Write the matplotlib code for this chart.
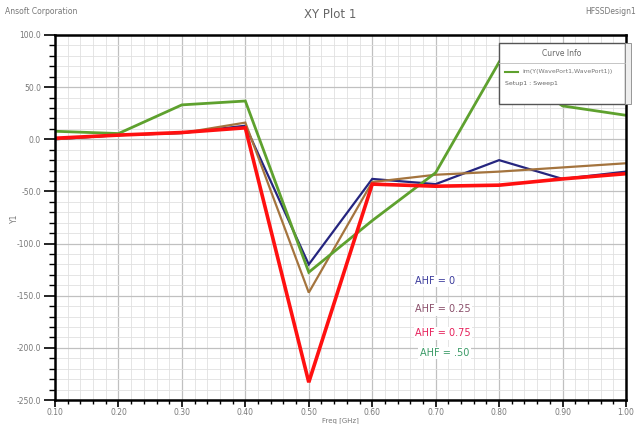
import numpy as np
import matplotlib.pyplot as plt
from matplotlib.ticker import MultipleLocator, FormatStrFormatter
from matplotlib.patches import Rectangle

# Dane
freq = [0.10, 0.20, 0.30, 0.40, 0.50, 0.60, 0.70, 0.80, 0.90, 1.00]
y_ahf_0 = [0.0, 4.0, 6.0, 13.0, -120.0, -38.0, -43.0, -20.0, -38.0, -31.0]
y_ahf_025 = [0.0, 4.0, 6.0, 16.0, -147.0, -41.0, -34.0, -31.0, -27.0, -23.0]
y_ahf_075 = [1.0, 4.0, 6.5, 11.0, -233.0, -43.0, -45.0, -44.0, -38.0, -33.0]
y_ahf_050 = [7.7, 5.5, 33.0, 36.7, -127.5, -78.0, -32.0, 74.0, 32.0, 23.0]

series = [
    (y_ahf_0, '#25257f', 1.6),
    (y_ahf_025, '#a4743e', 1.6),
    (y_ahf_050, '#5ea12e', 2.0),
    (y_ahf_075, '#ff1010', 2.6),
]
labels = ['AHF = 0', 'AHF = 0.25', 'AHF = 0.75', 'AHF = .50']
label_colors = ['#3b3b9c', '#8a4f6a', '#e6205a', '#3a9a66']
label_y = [-136.0, -163.0, -186.0, -205.0]
label_x = [0.668, 0.668, 0.668, 0.675]

fig = plt.figure(figsize=(6.41, 4.24), dpi=100)
ax = fig.add_axes([55 / 641, 1 - 400 / 424, 571 / 641, 365 / 424])

for ys, col, lw in series:
    ax.plot(freq, ys, color=col, lw=lw, solid_joinstyle='miter')

ax.set_xlim(0.10, 1.00)
ax.set_ylim(-250, 100)
ax.xaxis.set_major_locator(MultipleLocator(0.1))
ax.xaxis.set_minor_locator(MultipleLocator(0.02))
ax.yaxis.set_major_locator(MultipleLocator(50))
ax.yaxis.set_minor_locator(MultipleLocator(10))
ax.xaxis.set_major_formatter(FormatStrFormatter('%.2f'))
ax.yaxis.set_major_formatter(FormatStrFormatter('%.1f'))

ax.grid(which='major', color='#c0c0c0', lw=0.9)
ax.grid(which='minor', color='#e0e0e0', lw=0.6)
ax.set_axisbelow(True)

for s in ax.spines.values():
    s.set_color('black')
    s.set_linewidth(1.8)

ax.tick_params(which='major', direction='out', length=8, width=1.2,
               labelsize=5.5, labelcolor='#777777', pad=2)
ax.tick_params(which='minor', direction='out', length=4, width=1.0)
ax.tick_params(axis='x', which='major', length=5, pad=1)
ax.tick_params(axis='x', which='minor', length=3)

ax.set_xlabel('Freq [GHz]', fontsize=5, color='#777777')
ax.xaxis.set_label_coords(0.5, -0.048)
ax.set_ylabel('Y1', fontsize=5.5, color='#777777')
ax.yaxis.set_label_coords(-36 / 571, (400 - 218) / 365)

# etykiety krzywych
for txt, col, xx, yy in zip(labels, label_colors, label_x, label_y):
    ax.text(xx, yy, txt, color=col, fontsize=7, va='center', ha='left',
            bbox=dict(facecolor='white', edgecolor='none', pad=1))

# nagłówek
fig.text(5 / 641, 1 - 12 / 424, 'Ansoft Corporation', fontsize=5.5, color='#777777', va='center')
fig.text(330 / 641, 1 - 15 / 424, 'XY Plot 1', fontsize=8.5, color='#666666', ha='center', va='center')
fig.text(636 / 641, 1 - 12 / 424, 'HFSSDesign1', fontsize=5.5, color='#777777', ha='right', va='center')

# ramka "Curve Info"
bx, by, bw, bh = 499 / 641, 1 - 104 / 424, 126 / 641, 61 / 424
fig.patches.append(Rectangle((bx, by), bw, bh, transform=fig.transFigure,
                             facecolor='white', edgecolor='#555555', lw=1.0, zorder=5))
fig.patches.append(Rectangle((bx + bw, by), 6 / 641, bh, transform=fig.transFigure,
                             facecolor='#eeeeee', edgecolor='#888888', lw=0.6, zorder=5))
fig.lines.append(plt.Line2D([bx, bx + bw], [1 - 63 / 424] * 2, transform=fig.transFigure,
                            color='#bbbbbb', lw=0.6, zorder=6))
fig.text(bx + bw / 2, 1 - 53 / 424, 'Curve Info', fontsize=5.5, color='#666666',
         ha='center', va='center', zorder=7)
fig.lines.append(plt.Line2D([505 / 641, 518 / 641], [1 - 72 / 424] * 2, transform=fig.transFigure,
                            color='#5ea12e', lw=1.5, zorder=7))
fig.text(522 / 641, 1 - 72 / 424, 'im(Y(WavePort1,WavePort1))', fontsize=4.5, color='#777777',
         va='center', zorder=7)
fig.text(505 / 641, 1 - 84 / 424, 'Setup1 : Sweep1', fontsize=4.5, color='#666666',
         va='center', zorder=7)

fig.savefig('out.png', dpi=100)
